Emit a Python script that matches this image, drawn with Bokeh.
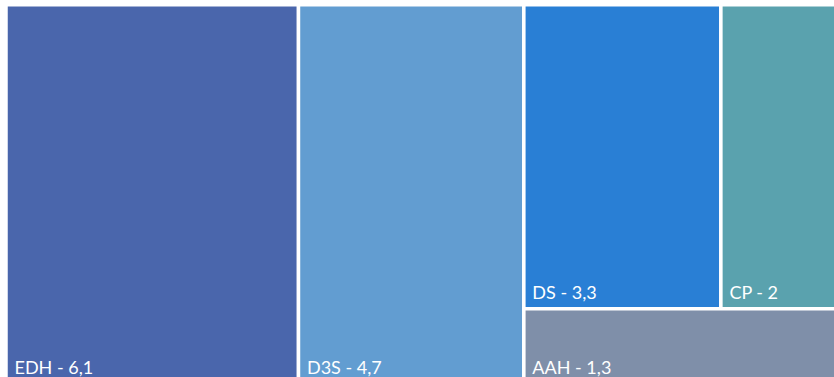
from bokeh.plotting import figure
from bokeh.models import ColumnDataSource, Range1d
from bokeh.embed import file_html
from bokeh.resources import INLINE

# Categories and values
names = ["EDH", "D3S", "DS", "CP", "AAH"]
values = [6.1, 4.7, 3.3, 2, 1.3]
colors = ["#4A66AC", "#629DD1", "#297FD5", "#5AA2AE", "#7F8FA9"]

# Nesting of the tiles (indices into the lists above): columns, then rows, ...
groups = [[0], [1], [[2, 3], [4]]]

W, H = 834, 377
# Treemap box in screen pixels (runs slightly past the right/bottom edges)
BOX = (5.5, 4.25, 834.3, 378.6)  # x0, y0, width, height


def size(node):
    return values[node] if isinstance(node, int) else sum(size(c) for c in node)


def slice_dice(node, x, y, w, h, across, out):
    """Split the box across (columns) or down (rows), alternating by level."""
    if isinstance(node, int):
        out[node] = (x, y, w, h)
        return
    total = size(node)
    for child in node:
        frac = size(child) / total
        if across:
            slice_dice(child, x, y, w * frac, h, not across, out)
            x += w * frac
        else:
            slice_dice(child, x, y, w, h * frac, not across, out)
            y += h * frac


cells = {}
slice_dice(groups, *BOX, True, cells)
left = [cells[i][0] for i in range(len(values))]
right = [cells[i][0] + cells[i][2] for i in range(len(values))]
top = [cells[i][1] for i in range(len(values))]
bottom = [cells[i][1] + cells[i][3] for i in range(len(values))]
labels = [f"{n} - {v:g}".replace(".", ",") for n, v in zip(names, values)]

src = ColumnDataSource(dict(left=left, right=right, top=top, bottom=bottom,
                            color=colors, label=labels))

p = figure(width=W, height=H, output_backend="svg", toolbar_location=None,
           x_range=Range1d(0, W), y_range=Range1d(H, 0), min_border=0)
p.axis.visible = False
p.grid.visible = False
p.outline_line_color = None
p.background_fill_color = "white"
p.border_fill_color = "white"

p.quad(left="left", right="right", top="top", bottom="bottom", source=src,
       fill_color="color", line_color="white", line_width=3.5)

p.text(x="left", y="bottom", text="label", source=src,
       x_offset=8.5, y_offset=-16.5, text_color="white",
       text_font={"value": "Lato"}, text_font_size="18px",
       text_baseline="alphabetic", text_align="left")

open("out.html", "w").write(file_html(p, INLINE))
